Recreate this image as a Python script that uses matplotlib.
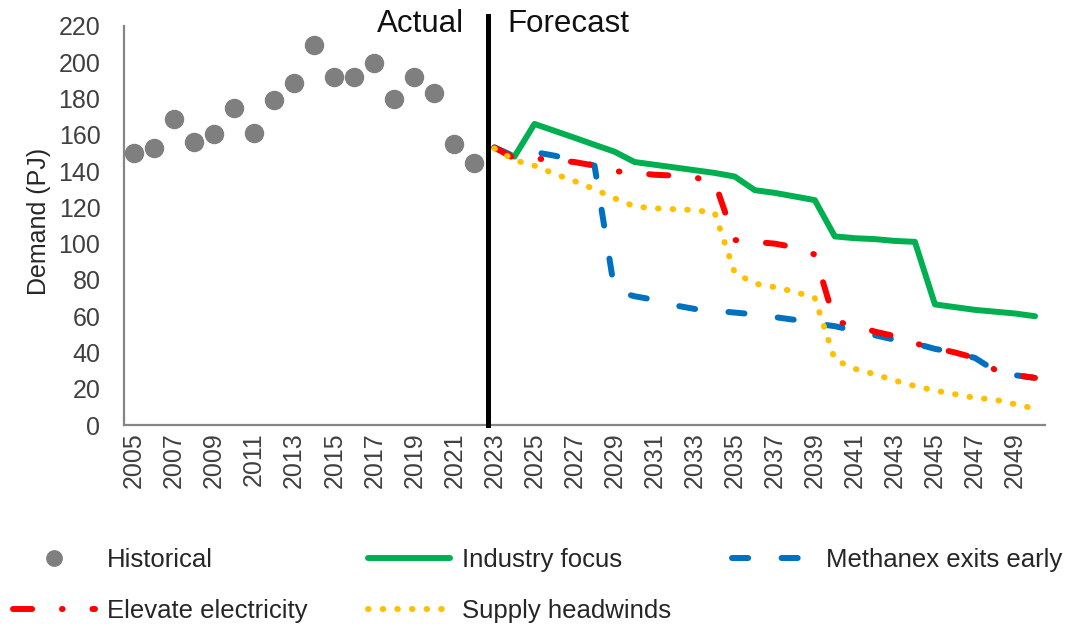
import matplotlib
matplotlib.use('Agg')
import matplotlib.pyplot as plt

plt.rcParams['font.family'] = ['Liberation Sans', 'DejaVu Sans']

# historical demand (PJ)
hist_years = list(range(2005, 2023))
hist_vals = [150, 152.5, 168.5, 156, 160.5, 175, 161, 179, 188.5, 209.5,
             192, 192, 199.5, 180, 192, 183, 155, 144.5]

# scenario forecasts 2023-2050
fc_years = list(range(2023, 2051))
industry_focus = [153, 148, 166, 162.2, 158.4, 154.5, 150.7, 145, 143.5, 142,
                  140.5, 139, 137, 129.5, 128, 126, 124, 104, 103, 102.5,
                  101.5, 101, 66.5, 65, 63.5, 62.5, 61.5, 60]
methanex_exits = [153, 148, 150.5, 148.5, 146, 143, 74, 71, 69, 66,
                  64, 63, 62, 61, 59.5, 58, 56, 54.5, 52, 49.5,
                  47, 45, 42, 40, 37, 30, 27.5, 26]
elevate_elec = [153, 147, 147, 146, 145, 143, 140, 139, 138, 137.5,
                136.5, 134, 102, 101, 100, 98, 94, 57, 55, 51.5,
                49, 45, 42.5, 40, 37, 30.5, 27.5, 26]
supply_headwinds = [152.5, 146, 143, 138.5, 134.5, 130, 125, 120.5, 119.5, 119,
                    118.5, 117, 84, 78, 76, 73.5, 70, 36, 31, 28,
                    24.5, 21.5, 19, 17, 15, 14, 11.5, 9]

xtick_years = list(range(2005, 2050, 2))
yticks = list(range(0, 221, 20))
divider_year = 2022.7
divider_top = 225.5

fig = plt.figure(figsize=(10.87, 6.28), dpi=100)
ax = fig.add_axes([0.1141, 0.3232, 0.8473, 0.6354])

lw = 4.3
ax.plot(hist_years, hist_vals, 'o', color='#7f7f7f', markersize=13,
        linestyle='none', label='Historical', zorder=3)
ax.plot(fc_years, industry_focus, color='#00b050', lw=lw,
        solid_capstyle='round', solid_joinstyle='round', label='Industry focus', zorder=3)
ax.plot(fc_years, methanex_exits, color='#0070c0', lw=lw,
        dashes=(2.7, 5.6), dash_capstyle='round', label='Methanex exits early', zorder=3)
ax.plot(fc_years, elevate_elec, color='#ff0000', lw=lw,
        dashes=(3.2, 5.0, 0.1, 5.0), dash_capstyle='round', label='Elevate electricity', zorder=3)
ax.plot(fc_years, supply_headwinds, color='#ffc000', lw=lw,
        dashes=(0.1, 2.35), dash_capstyle='round', label='Supply headwinds', zorder=3)

# actual / forecast divider
ax.plot([divider_year, divider_year], [0, divider_top], color='black', lw=3.6,
        clip_on=False, zorder=4)
ax.text(2021.5, 216.5, 'Actual', ha='right', va='baseline', fontsize=22.5, color='#111111')
ax.text(2023.65, 216.5, 'Forecast', ha='left', va='baseline', fontsize=22.5, color='#111111')

ax.set_xlim(2004.5, 2050.5)
ax.set_ylim(0, 220)
ax.set_xticks(xtick_years)
ax.set_xticklabels([str(y) for y in xtick_years], rotation=90)
ax.set_yticks(yticks)
ax.tick_params(axis='both', length=0, labelsize=18, labelcolor='#404040')
ax.tick_params(axis='y', pad=17)
ax.tick_params(axis='x', pad=5)

for s in ['top', 'right']:
    ax.spines[s].set_visible(False)
for s in ['left', 'bottom']:
    ax.spines[s].set_color('#868686')
    ax.spines[s].set_linewidth(1.6)

ax.set_ylabel('Demand (PJ)', fontsize=18, color='#262626')
ax.yaxis.set_label_coords(-0.079, 0.51)

h, l = ax.get_legend_handles_labels()
# column-major order so rows read: Historical, Industry, Methanex / Elevate, Supply
order = [0, 3, 1, 4, 2]
fig.legend([h[i] for i in order], [l[i] for i in order], ncol=3,
           loc='upper left', bbox_to_anchor=(0.012, 0.127), frameon=False,
           fontsize=18.5, handlelength=3.2, handletextpad=0.45,
           columnspacing=2.37, labelspacing=1.05, borderpad=0, borderaxespad=0,
           numpoints=1, markerscale=0.85, labelcolor='#262626')

fig.savefig('out.png', dpi=100)
